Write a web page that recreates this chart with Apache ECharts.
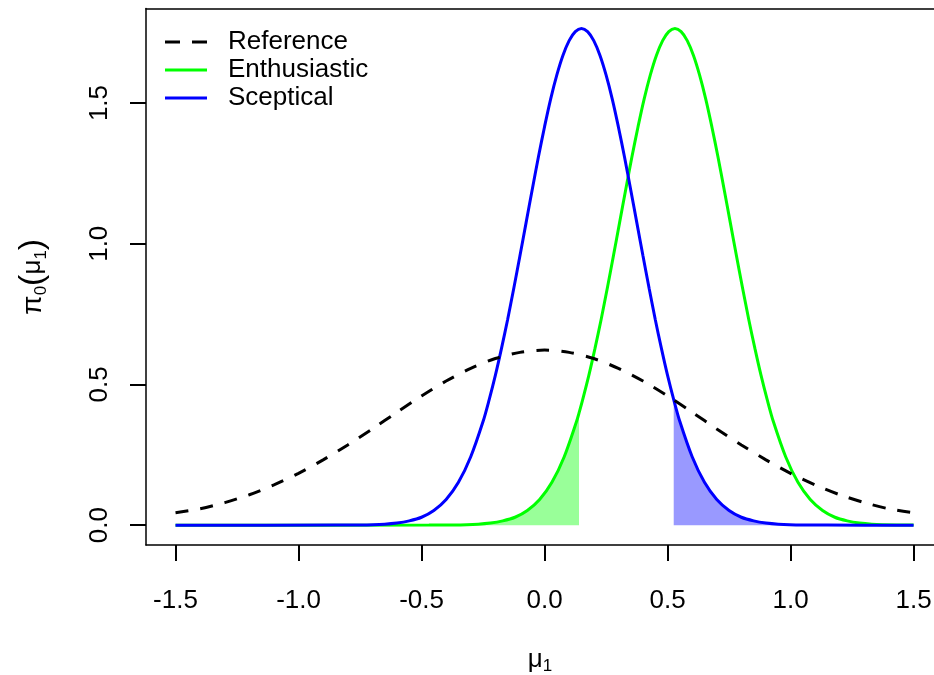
<!DOCTYPE html>
<html>
<head>
<meta charset="utf-8">
<script src="https://cdn.jsdelivr.net/npm/echarts@6/dist/echarts.min.js"></script>
<style>
  html, body { margin: 0; padding: 0; background: #fff; }
  #chart { width: 934px; height: 675px; }
</style>
</head>
<body>
<div id="chart"></div>
<script>
const xTicks = [-1.5, -1.0, -0.5, 0.0, 0.5, 1.0, 1.5]
const yTicks = [0.0, 0.5, 1.0, 1.5]

// reference prior (dashed)
const refMu = [-1.5, -1.4, -1.3, -1.2, -1.1, -1.0, -0.9, -0.8, -0.7, -0.6, -0.5, -0.4, -0.3, -0.2, -0.1,
  0.0, 0.1, 0.2, 0.3, 0.4, 0.5, 0.6, 0.7, 0.8, 0.9, 1.0, 1.1, 1.2, 1.3, 1.4, 1.5]
const refDens = [0.044, 0.058, 0.080, 0.108, 0.143, 0.184, 0.232, 0.285, 0.342, 0.401, 0.459, 0.512, 0.557, 0.592, 0.614,
  0.622, 0.614, 0.592, 0.557, 0.512, 0.459, 0.401, 0.342, 0.285, 0.232, 0.184, 0.143, 0.108, 0.080, 0.058, 0.044]

// enthusiastic prior (green)
const enthMu = [-1.5, -0.47, -0.37, -0.27, -0.22, -0.17, -0.12, -0.07, -0.02, 0.03, 0.08, 0.13, 0.14, 0.155,
  0.18, 0.205, 0.23, 0.255, 0.28, 0.305, 0.33, 0.355, 0.38, 0.405, 0.43, 0.455, 0.48, 0.505, 0.53,
  0.555, 0.58, 0.605, 0.63, 0.655, 0.68, 0.705, 0.73, 0.755, 0.78, 0.805, 0.83, 0.855, 0.88, 0.905,
  0.93, 0.98, 1.03, 1.08, 1.13, 1.18, 1.23, 1.28, 1.33, 1.43, 1.5]
const enthDens = [0, 0.0001, 0.0006, 0.0034, 0.0072, 0.015, 0.028, 0.052, 0.091, 0.152, 0.243, 0.368, 0.398, 0.446,
  0.532, 0.628, 0.731, 0.842, 0.957, 1.075, 1.193, 1.308, 1.416, 1.515, 1.600, 1.670, 1.722, 1.754, 1.765,
  1.754, 1.722, 1.670, 1.600, 1.515, 1.416, 1.308, 1.193, 1.075, 0.957, 0.842, 0.731, 0.628, 0.532, 0.446,
  0.368, 0.243, 0.152, 0.091, 0.052, 0.028, 0.015, 0.0072, 0.0034, 0.0006, 0.0001]

// sceptical prior (blue)
const scepMu = [-1.5, -0.85, -0.75, -0.65, -0.6, -0.55, -0.5, -0.45, -0.4, -0.35, -0.3, -0.25, -0.225,
  -0.2, -0.175, -0.15, -0.125, -0.1, -0.075, -0.05, -0.025, 0.0, 0.025, 0.05, 0.075, 0.1, 0.125, 0.15,
  0.175, 0.2, 0.225, 0.25, 0.275, 0.3, 0.325, 0.35, 0.375, 0.4, 0.425, 0.45, 0.475, 0.5, 0.525,
  0.55, 0.6, 0.65, 0.7, 0.75, 0.8, 0.85, 0.9, 0.95, 1.05, 1.15, 1.5]
const scepDens = [0, 0.0001, 0.0006, 0.0034, 0.0072, 0.015, 0.028, 0.052, 0.091, 0.152, 0.243, 0.368, 0.446,
  0.532, 0.628, 0.731, 0.842, 0.957, 1.075, 1.193, 1.308, 1.416, 1.515, 1.600, 1.670, 1.722, 1.754, 1.765,
  1.754, 1.722, 1.670, 1.600, 1.515, 1.416, 1.308, 1.193, 1.075, 0.957, 0.842, 0.731, 0.628, 0.532, 0.446,
  0.368, 0.243, 0.152, 0.091, 0.052, 0.028, 0.015, 0.0072, 0.0034, 0.0006, 0.0001, 0]

// shaded tails
const enthShadeUpTo = 0.14
const scepShadeFrom = 0.525

const FONT = '"Liberation Sans", Arial, sans-serif'
const pairs = (xs, ys) => xs.map((x, i) => [x, ys[i]])
const enthShade = pairs(enthMu, enthDens).filter(p => p[0] <= enthShadeUpTo)
const scepShade = pairs(scepMu, scepDens).filter(p => p[0] >= scepShadeFrom)

// the R device cuts the plot box off on the right, so the x range stops short of +1.62
const X_MIN = -1.62
const X_MAX = 1.583
const BOX = { color: '#000', width: 1.5 }

const chart = echarts.init(document.getElementById('chart'))

chart.setOption({
  animation: false,
  backgroundColor: '#fff',
  textStyle: { fontFamily: FONT, color: '#000' },
  grid: {
    left: 146,
    right: 0,
    top: 8.5,
    height: 536.5,
    outerBoundsMode: 'none'
  },
  legend: {
    data: [
      { name: 'Reference', icon: 'path://M0,0h15v3h-15z M27,0h15v3h-15z' },
      { name: 'Enthusiastic', icon: 'rect' },
      { name: 'Sceptical', icon: 'rect' }
    ],
    orient: 'vertical',
    left: 165,
    top: 29,
    padding: 0,
    itemWidth: 42,
    itemHeight: 3,
    itemGap: 2,
    textStyle: { fontSize: 26, fontFamily: FONT, color: '#000', padding: [0, 0, 0, 16] }
  },
  xAxis: [
    {
      type: 'value',
      min: X_MIN,
      max: X_MAX,
      splitLine: { show: false },
      axisLine: { show: true, onZero: false, lineStyle: BOX },
      axisTick: {
        customValues: xTicks,
        length: 16,
        lineStyle: { color: '#000', width: 2 }
      },
      axisLabel: {
        customValues: xTicks,
        margin: 43,
        fontSize: 26,
        color: '#000',
        formatter: v => v.toFixed(1)
      },
      name: '{m|μ}{s|1}',
      nameLocation: 'middle',
      nameGap: 100,
      nameTextStyle: {
        rich: {
          m: { fontSize: 26, fontFamily: FONT, color: '#000', lineHeight: 30 },
          s: { fontSize: 17, fontFamily: FONT, color: '#000', verticalAlign: 'bottom', lineHeight: 30 }
        }
      }
    },
    {
      // top edge of the box
      type: 'value',
      position: 'top',
      min: X_MIN,
      max: X_MAX,
      splitLine: { show: false },
      axisLine: { show: true, onZero: false, lineStyle: BOX },
      axisTick: { show: false },
      axisLabel: { show: false }
    }
  ],
  yAxis: {
    type: 'value',
    min: -0.0706,
    max: 1.836,
    splitLine: { show: false },
    axisLine: { show: true, onZero: false, lineStyle: BOX },
    axisTick: {
      customValues: yTicks,
      length: 16,
      lineStyle: { color: '#000', width: 2 }
    },
    axisLabel: {
      customValues: yTicks,
      rotate: 90,
      margin: 33,
      fontSize: 26,
      color: '#000',
      formatter: v => v.toFixed(1)
    },
    name: '{p|π}{s|0}{q|(}{m|μ}{s|1}{q|)}',
    nameLocation: 'middle',
    nameRotate: 90,
    nameGap: 96,
    nameTextStyle: {
      rich: {
        p: { fontSize: 28, fontFamily: FONT, color: '#000', lineHeight: 34 },
        q: { fontSize: 34, fontFamily: FONT, color: '#000', lineHeight: 34 },
        m: { fontSize: 26, fontFamily: FONT, color: '#000', lineHeight: 34 },
        s: { fontSize: 17, fontFamily: FONT, color: '#000', verticalAlign: 'bottom', lineHeight: 34 }
      }
    }
  },
  series: [
    {
      name: 'enthShade',
      type: 'line',
      data: enthShade,
      smooth: 0.3,
      showSymbol: false,
      lineStyle: { width: 0 },
      areaStyle: { color: 'rgba(0,255,0,0.4)', opacity: 1 },
      silent: true,
      z: 1
    },
    {
      name: 'scepShade',
      type: 'line',
      data: scepShade,
      smooth: 0.3,
      showSymbol: false,
      lineStyle: { width: 0 },
      areaStyle: { color: 'rgba(0,0,255,0.4)', opacity: 1 },
      silent: true,
      z: 1
    },
    {
      name: 'Enthusiastic',
      type: 'line',
      data: pairs(enthMu, enthDens),
      smooth: 0.3,
      symbol: 'none',
      color: '#00ff00',
      lineStyle: { color: '#00ff00', width: 3 },
      z: 2
    },
    {
      name: 'Sceptical',
      type: 'line',
      data: pairs(scepMu, scepDens),
      smooth: 0.3,
      symbol: 'none',
      color: '#0000ff',
      lineStyle: { color: '#0000ff', width: 3 },
      z: 3
    },
    {
      name: 'Reference',
      type: 'line',
      data: pairs(refMu, refDens),
      smooth: 0.3,
      symbol: 'none',
      color: '#000',
      lineStyle: { color: '#000', width: 3, type: [13, 12] },
      z: 4
    }
  ]
})
</script>
</body>
</html>
